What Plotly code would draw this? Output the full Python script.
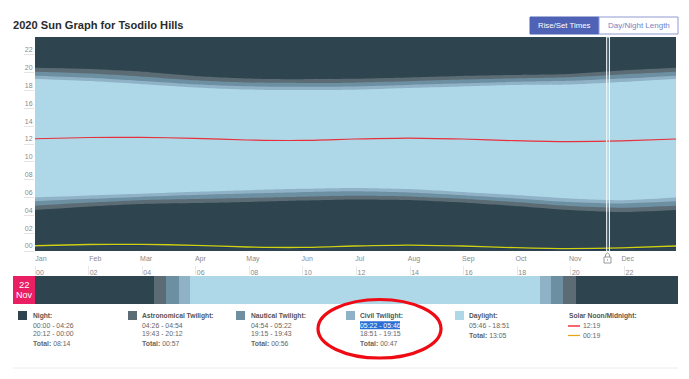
import plotly.graph_objects as go

W, H = 689, 379

# ---- data -------------------------------------------------------------
month_days = [0, 31, 60, 91, 121, 152, 182, 213, 244, 274, 305, 335, 366]
month_labels = ["Jan", "Feb", "Mar", "Apr", "May", "Jun", "Jul", "Aug", "Sep", "Oct", "Nov", "Dec"]

night_end    = [4.60, 4.99, 5.27, 5.38, 5.50, 5.66, 5.78, 5.72, 5.44, 5.05, 4.60, 4.37, 4.60]
astro_end    = [5.08, 5.43, 5.70, 5.83, 5.94, 6.08, 6.19, 6.12, 5.86, 5.49, 5.05, 4.86, 5.08]
nautical_end = [5.57, 5.85, 6.07, 6.27, 6.44, 6.59, 6.69, 6.56, 6.26, 5.90, 5.50, 5.33, 5.57]
sunrise      = [6.00, 6.22, 6.41, 6.64, 6.82, 6.97, 7.07, 6.95, 6.62, 6.28, 5.89, 5.70, 6.00]
sunset       = [19.29, 19.06, 18.73, 18.34, 18.11, 18.06, 18.09, 18.28, 18.45, 18.62, 18.67, 18.95, 19.29]
civil_dusk   = [19.66, 19.44, 19.10, 18.70, 18.47, 18.43, 18.46, 18.62, 18.80, 18.97, 19.08, 19.34, 19.66]
naut_dusk    = [20.09, 19.90, 19.58, 19.15, 18.90, 18.84, 18.88, 19.03, 19.22, 19.35, 19.48, 19.79, 20.09]
astro_dusk   = [20.54, 20.41, 20.13, 19.63, 19.35, 19.27, 19.31, 19.46, 19.63, 19.74, 19.85, 20.24, 20.54]
day_top      = [24] * 13
solar_noon   = [12.59, 12.73, 12.75, 12.64, 12.45, 12.40, 12.56, 12.67, 12.56, 12.37, 12.26, 12.34, 12.56]
solar_midnight = [0.59, 0.73, 0.75, 0.64, 0.45, 0.40, 0.56, 0.67, 0.56, 0.37, 0.26, 0.34, 0.56]
midnight_edge  = [0.50, 0.64, 0.66, 0.55, 0.36, 0.31, 0.47, 0.58, 0.47, 0.28, 0.17, 0.25, 0.47]

hour_ticks = list(range(0, 24, 2))
hour_labels = [f"{h:02d}" for h in hour_ticks]

selected_day = 327.2
strip_starts = [0.0, 4.43, 4.90, 5.37, 5.77, 18.85, 19.25, 19.72, 20.20]
strip_ends   = [4.43, 4.90, 5.37, 5.77, 18.85, 19.25, 19.72, 20.20, 24.0]

NIGHT, ASTRO, NAUT, CIVIL, DAY = "#2e4550", "#5c6c74", "#6d8fa2", "#8fb2c6", "#aed8e8"
strip_colors = [NIGHT, ASTRO, NAUT, CIVIL, DAY, CIVIL, NAUT, ASTRO, NIGHT]

# ---- figure -------------------------------------------------------------
fig = go.Figure()

layers = [
    (day_top, NIGHT), (astro_dusk, ASTRO), (naut_dusk, NAUT), (civil_dusk, CIVIL),
    (sunset, DAY), (sunrise, CIVIL), (nautical_end, NAUT), (astro_end, ASTRO), (night_end, NIGHT),
]
for vals, col in layers:
    fig.add_trace(go.Scatter(x=month_days, y=vals, mode="lines", fill="tozeroy", fillcolor=col,
                             line=dict(width=0, color=col, shape="spline", smoothing=0.6),
                             hoverinfo="skip", showlegend=False))
fig.add_trace(go.Scatter(x=month_days, y=solar_noon, mode="lines", showlegend=False, hoverinfo="skip",
                         line=dict(color="#e8303a", width=1.2, shape="spline", smoothing=0.6)))
fig.add_trace(go.Scatter(x=month_days, y=midnight_edge, mode="lines", showlegend=False, hoverinfo="skip",
                         line=dict(color="#1c2f6b", width=1, shape="spline", smoothing=0.6)))
fig.add_trace(go.Scatter(x=month_days, y=solar_midnight, mode="lines", showlegend=False, hoverinfo="skip",
                         line=dict(color="#cfd20c", width=1.3, shape="spline", smoothing=0.6)))

for s, e, c in zip(strip_starts, strip_ends, strip_colors):
    fig.add_trace(go.Bar(y=[0], x=[e - s], base=[s], orientation="h", marker=dict(color=c, line=dict(width=0)),
                         xaxis="x2", yaxis="y2", width=1, showlegend=False, hoverinfo="skip"))


def px(x):
    return x / W


def py(y):
    return 1 - y / H


FONT = "Liberation Sans, Arial, sans-serif"
shapes, annos = [], []


def rect(x0, y0, x1, y1, fill, line=None, lw=0):
    shapes.append(dict(type="rect", xref="paper", yref="paper", x0=px(x0), x1=px(x1), y0=py(y0), y1=py(y1),
                       fillcolor=fill, line=dict(color=line or fill, width=lw)))


def text(x, y, s, size=7, color="#666", anchor="left"):
    annos.append(dict(xref="paper", yref="paper", x=px(x), y=py(y), text=s, showarrow=False, xanchor=anchor,
                      yanchor="middle", font=dict(family=FONT, size=size, color=color), borderpad=0, borderwidth=0))


# selected-day marker in the main plot
shapes.append(dict(type="rect", xref="x", yref="paper", x0=selected_day - 0.8, x1=selected_day + 0.8,
                   y0=py(252), y1=py(37), fillcolor="rgba(255,255,255,0.12)", line=dict(color="#f4f8fa", width=1)))
# lock icon
rect(604, 257, 611, 263, "#ffffff", "#9a9a9a", 1)
shapes.append(dict(type="path", xref="paper", yref="paper",
                   path=f"M {px(605.5)} {py(257)} L {px(605.5)} {py(254.5)} Q {px(607.5)} {py(251.5)} {px(609.5)} {py(254.5)} L {px(609.5)} {py(257)}",
                   line=dict(color="#9a9a9a", width=1)))
rect(607, 259.5, 608, 260.5, "#777777")

# header
rect(530, 17, 599, 34, "#4f62b5", "#4f62b5", 1)
rect(599, 17, 678, 34, "#ffffff", "#8f9bd2", 1)
text(564.5, 25.8, "Rise/Set Times", 7.8, "#ffffff", "center")
text(638.5, 25.8, "Day/Night Length", 8, "#7482c4", "center")

# date badge
rect(13, 276, 35, 304, "#e91e63")
text(24, 284.5, "22", 9.5, "#ffffff", "center")
text(24, 294.5, "Nov", 9, "#ffffff", "center")

# key
TITLE, BODY = "#555", "#666"
blocks = [
    (18, 33, NIGHT, "Night:", ["00:00 - 04:26", "20:12 - 00:00"], "08:14"),
    (128, 142, ASTRO, "Astronomical Twilight:", ["04:26 - 04:54", "19:43 - 20:12"], "00:57"),
    (236, 251, NAUT, "Nautical Twilight:", ["04:54 - 05:22", "19:15 - 19:43"], "00:56"),
    (346, 360, CIVIL, "Civil Twilight:", ["05:22 - 05:46", "18:51 - 19:15"], "00:47"),
    (455, 469, DAY, "Daylight:", ["05:46 - 18:51"], "13:05"),
]
rect(360, 321.3, 400, 329.3, "#2a6fd6")
for sx, tx, col, name, lines, total in blocks:
    rect(sx, 311, sx + 9, 320, col)
    text(tx, 316, f"<b>{name}</b>", 6.7, TITLE)
    yy = 325.3
    for ln in lines:
        sel = ln == "05:22 - 05:46"
        text(tx, yy, ln, 6.9, "#ffffff" if sel else BODY)
        yy += 8.6
    text(tx, yy + 1.3, f"<b>Total:</b> {total}", 6.9, BODY)

text(569, 316, "<b>Solar Noon/Midnight:</b>", 6.7, TITLE)
shapes.append(dict(type="line", xref="paper", yref="paper", x0=px(568), x1=px(580), y0=py(326), y1=py(326),
                   line=dict(color="#f0141e", width=1.3)))
shapes.append(dict(type="line", xref="paper", yref="paper", x0=px(568), x1=px(580), y0=py(335.5), y1=py(335.5),
                   line=dict(color="#e8a317", width=1.2)))
text(583, 325.3, "12:19", 6.9, BODY)
text(583, 335, "00:19", 6.9, BODY)

# annotation ellipse + rule
shapes.append(dict(type="circle", xref="paper", yref="paper", x0=px(318), x1=px(441), y0=py(299.5), y1=py(358),
                   line=dict(color="#ee0b14", width=3.2), fillcolor="rgba(0,0,0,0)"))
shapes.append(dict(type="line", xref="paper", yref="paper", x0=px(13), x1=px(678), y0=py(368), y1=py(368),
                   line=dict(color="#ececec", width=1)))

axis_font = dict(family=FONT, size=7, color="#8a8a8a")
fig.update_layout(
    width=W, height=H, autosize=False, margin=dict(l=0, r=0, t=0, b=0),
    paper_bgcolor="#ffffff", plot_bgcolor="#ffffff", barmode="overlay", bargap=0,
    showlegend=False, shapes=shapes, annotations=annos,
    title=dict(text="<b>2020 Sun Graph for Tsodilo Hills</b>", x=13 / W, xref="container", xanchor="left",
               y=1 - 25 / H, yref="container", yanchor="middle",
               font=dict(family=FONT, size=11.1, color="#2b2b2b")),
    xaxis=dict(domain=[35 / W, 676 / W], range=[0, 366], tickmode="array", tickvals=month_days[:-1],
               ticktext=month_labels, showgrid=False, zeroline=False, ticks="outside", ticklen=1,
               tickcolor="#eeeeee", tickfont=axis_font, ticklabelshift=6, ticklabelstandoff=0, anchor="y"),
    yaxis=dict(domain=[1 - 251 / H, 1 - 37 / H], range=[0, 24], tickmode="array", tickvals=hour_ticks,
               ticktext=hour_labels, showgrid=False, zeroline=False, ticks="outside", ticklen=10,
               tickcolor="#e4e4e4", tickfont=axis_font, ticklabelshift=-5, ticklabelstandoff=-10, anchor="x"),
    xaxis2=dict(domain=[35 / W, 678 / W], range=[0, 24], tickmode="array", tickvals=hour_ticks,
                ticktext=hour_labels, showgrid=False, zeroline=False, side="top", ticks="outside", ticklen=9,
                tickcolor="#e8e8e8", tickfont=axis_font, ticklabelshift=5, ticklabelstandoff=-12, anchor="y2"),
    yaxis2=dict(domain=[1 - 304 / H, 1 - 276 / H], range=[-0.5, 0.5], visible=False, anchor="x2"),
)

fig.write_html("out.html", config=dict(displayModeBar=False),
               post_script="document.body.style.margin='0';document.body.style.overflow='hidden';")
